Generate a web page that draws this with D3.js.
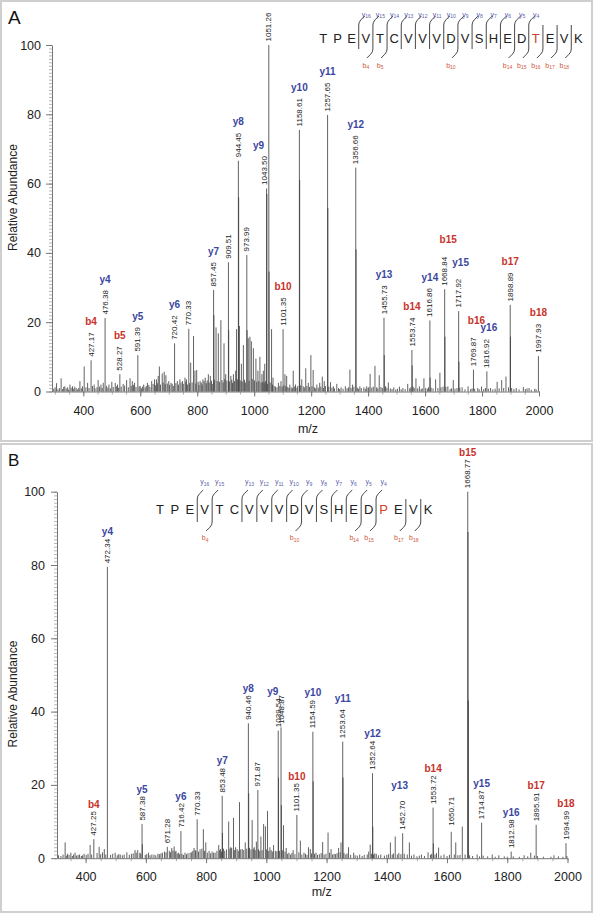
<!DOCTYPE html>
<html><head><meta charset="utf-8">
<script src="https://cdn.jsdelivr.net/npm/d3@7"></script>
<style>
body{margin:0;background:#fff}
svg{display:block}
text{font-family:"Liberation Sans",Arial,Helvetica,sans-serif}
</style>
</head><body>
<svg id="c" width="594" height="914"></svg>
<script>
// ---------------- DATA ----------------
const yTickValues = [0, 20, 40, 60, 80, 100];
const xTickValues = [400, 600, 800, 1000, 1200, 1400, 1600, 1800, 2000];

// Panel A labeled peaks
const labMzA  = [427.17,476.38,528.27,591.39,720.42,770.33,857.45,909.51,944.45,973.99,1043.50,1051.26,1101.35,1158.61,1257.65,1356.66,1455.73,1553.74,1616.86,1668.84,1717.92,1769.87,1816.92,1898.89,1997.93];
const labIntA = [9.0,21.2,5.0,10.5,13.9,18.1,29.3,37.3,66.6,39.4,58.6,100,18.0,75.5,79.8,64.6,21.3,12.0,20.5,29.5,23.2,6.3,5.8,25.0,10.2];
const ionA    = ["b4","y4","b5","y5","y6","","y7","","y8","","y9","","b10","y10","y11","y12","y13","b14","y14","b15","y15","b16","y16","b17","b18"];

// Panel A other visible peaks [m/z, relative abundance]
const minorA = [[306,2.4],[322,3.8],[335,1.5],[345,1.2],[353,2.0],[362,1.5],[375,1.0],[388,3.0],[403,7.2],[415,2.5],[438,2.0],[452,3.3],[462,2.0],[470,2.5],[490,2.0],[500,2.8],[512,2.5],[520,2.0],[540,2.2],[552,3.3],[564,3.8],[572,3.0],[580,2.5],[600,1.5],[612,2.0],[625,2.5],[640,3.0],[650,3.5],[657,3.5],[663,4.5],[667,7.2],[677,5.2],[684,5.7],[690,4.7],[700,3.0],[708,2.5],[730,3.0],[739,3.5],[748,3.0],[757,4.0],[762,3.5],[777,8.3],[787,16],[792,6],[798,6.2],[810,3.0],[820,3.5],[828,4.0],[839,5.0],[846,4.5],[858.45,22],[866,18.5],[874,16.8],[883,20.6],[894,13.9],[900,5],[910.5,17.7],[918,4.5],[927,5],[935,6],[938,18],[945.45,56],[948,18.9],[955,8],[962,13.4],[975,17.7],[979,15.4],[985,15.8],[990,14.5],[997,12.5],[1006,9.5],[1013,6],[1020,10],[1027,5],[1032,6],[1037,8],[1044.5,57],[1052.26,34.6],[1061,18],[1066,4],[1085,2.5],[1094,3],[1108,5],[1114,4.5],[1125,2],[1137,6],[1145,2],[1159.6,61],[1167,3.5],[1181,6.7],[1190,2.5],[1199,10.5],[1207,6.2],[1220,2],[1230,2.5],[1239,4.3],[1246,3],[1258.65,53],[1268,2.7],[1278,1.5],[1290,2.2],[1305,1.2],[1320,1.5],[1336,6.3],[1345,2],[1357.66,41],[1371,1.5],[1385,1.2],[1395,1.5],[1407,5.1],[1424,7.4],[1439,4.7],[1456.7,10.5],[1471,2.6],[1490,1.2],[1510,1.4],[1522,1],[1539,2.2],[1554.7,7.5],[1568,3.8],[1580,1.5],[1596,3.8],[1617.9,4],[1637,3.5],[1652,5.4],[1669.8,15.8],[1680,1.5],[1699,3.3],[1718.9,8.6],[1730,1.2],[1751,1.5],[1785,1],[1798,1.4],[1830,1],[1853,2.8],[1869,3.3],[1884,4.3],[1899.9,15.8],[1920,1],[1945,1.3],[1965,1],[1985,0.8]];

// Panel A baseline noise
const grassA = [[296,0.8],[301,1.2],[311,0.6],[316,1.0],[327,0.7],[331,1.3],[340,0.9],[348,0.5],[357,1.1],[366,0.8],[370,1.4],[380,0.6],[384,1.0],[393,0.9],[397,1.5],[409,1.2],[420,1.0],[432,1.6],[441,0.9],[448,1.2],[457,1.4],[466,1.0],[481,1.6],[486,1.1],[495,0.9],[505,1.3],[516,1.5],[524,1.1],[533,1.4],[545,1.7],[558,1.2],[568,1.6],[576,1.9],[585,1.3],[596,1.5],[604,0.9],[608,1.4],[617,1.2],[621,1.6],[630,1.9],[634,1.3],[645,2.2],[653,1.8],[660,2.4],[671,2.0],[680,2.6],[687,2.1],[695,2.3],[703,1.9],[712,2.2],[716,1.6],[725,2.4],[734,2.0],[743,2.6],[751,2.2],[760,2.8],[766,2.0],[773,2.4],[782,2.6],[795,2.3],[803,2.8],[806,1.9],[814,2.6],[817,2.0],[824,3.0],[832,2.4],[835,3.2],[842,2.6],[850,3.1],[853,2.2],[861,3.4],[870,3.0],[878,2.8],[887,3.3],[891,2.6],[897,3.6],[904,3.1],[913,2.9],[921,3.4],[924,2.5],[931,3.0],[941,3.5],[951,3.2],[958,2.9],[966,3.4],[969,2.6],[982,3.1],[993,3.6],[1001,3.2],[1009,2.8],[1016,3.0],[1024,2.6],[1030,2.8],[1035,2.4],[1040,3.0],[1047,2.2],[1056,2.6],[1064,2.0],[1070,1.6],[1075,1.4],[1080,1.2],[1090,1.6],[1098,1.4],[1104,1.8],[1111,1.5],[1118,1.3],[1122,1.0],[1130,1.2],[1134,0.9],[1141,1.4],[1150,1.1],[1153,1.6],[1162,1.8],[1172,1.5],[1176,1.2],[1185,1.6],[1194,1.3],[1203,1.5],[1212,1.2],[1216,0.9],[1225,1.1],[1234,1.4],[1243,1.0],[1250,1.6],[1262,1.4],[1273,1.1],[1282,0.9],[1296,1.0],[1300,0.7],[1312,0.8],[1326,0.9],[1331,1.2],[1340,1.0],[1350,1.4],[1362,1.1],[1366,0.8],[1376,1.0],[1390,0.8],[1400,1.0],[1403,1.3],[1413,1.1],[1418,1.4],[1430,1.2],[1434,0.9],[1445,1.3],[1450,1.0],[1461,1.5],[1466,1.1],[1478,0.9],[1484,0.7],[1497,0.6],[1503,0.8],[1516,0.6],[1530,0.7],[1546,0.9],[1550,1.2],[1558,1.4],[1562,1.0],[1574,0.9],[1586,0.7],[1590,0.9],[1602,1.0],[1608,0.8],[1612,1.2],[1621,1.1],[1628,0.9],[1645,1.0],[1656,1.2],[1663,1.4],[1673,1.3],[1688,0.7],[1693,0.9],[1705,0.8],[1712,1.0],[1722,1.1],[1740,0.6],[1760,0.7],[1765,0.9],[1774,0.8],[1790,0.6],[1806,0.7],[1812,1.0],[1822,0.8],[1838,0.6],[1846,0.8],[1860,0.9],[1876,1.0],[1893,1.2],[1904,1.0],[1912,0.7],[1930,0.6],[1952,0.7],[1958,0.9],[1973,0.5],[1990,0.6]];

// Panel B labeled peaks
const labMzB  = [427.25,472.34,587.38,671.28,716.42,770.33,853.48,940.46,971.87,1039.54,1048.87,1101.35,1154.59,1253.64,1352.64,1452.70,1553.72,1650.71,1668.77,1714.87,1812.98,1895.91,1994.99];
const labIntB = [5.2,79.5,9.3,3.1,7.4,10.6,17.0,36.8,18.6,34.8,35.7,11.8,34.5,31.8,23.2,6.8,13.8,8.6,100,9.7,1.8,9.1,4.1];
const ionB    = ["b4","y4","y5","","y6","","y7","y8","","y9","","b10","y10","y11","y12","y13","b14","","b15","y15","y16","b17","b18"];

// Panel B other visible peaks
const minorB = [[332,4.3],[340,1.2],[351,1.5],[365,1.5],[380,1.0],[395,1.2],[415,3.6],[445,3.1],[462,2.5],[498,1.5],[515,1.0],[537,1.6],[552,1.2],[564,2.2],[573,2.2],[580,1.5],[588.4,3.8],[609,1.5],[620,1.0],[640,1.2],[655,1.5],[662,1.8],[686,2.8],[694,3.2],[700,2.0],[708,1.5],[730,1.5],[747,1.5],[760,2.8],[766,2.0],[791,7.9],[799,4.3],[810,2.0],[825,1.5],[842,3.6],[848,2.5],[854.5,6.9],[875,10],[882,3],[891,11],[898,3],[911,15.3],[920,2.5],[930,4.3],[941.5,17.7],[953,10.4],[960,3],[967,4.5],[982,5.9],[991,9.3],[997,8.7],[1004,12.9],[1012,3],[1024,3.6],[1030,2],[1040.5,22],[1049.9,14.5],[1057,9],[1066,2.8],[1075,1.5],[1089,2.2],[1113,4.8],[1125,1.5],[1140,3],[1146,2.5],[1155.6,21],[1165,1.5],[1187,4.4],[1205,7],[1215,2.5],[1225,1.2],[1240,2.8],[1248,4.3],[1254.6,22],[1273,3],[1290,1.5],[1310,1],[1340,1.8],[1345,3.7],[1353.6,8.6],[1365,1.2],[1380,1],[1412,4.3],[1428,5.9],[1475,4.3],[1490,1],[1515,1],[1537,1.6],[1554.7,4],[1572,2.9],[1590,1],[1614,7.2],[1629,4.3],[1669.8,89],[1670.8,43],[1700,1],[1750,1],[1772,0.8],[1856,0.8],[1878,1.5],[1955,0.8]];

// Panel B baseline noise
const grassB = [[310,0.8],[318,0.6],[325,1.0],[336,0.7],[345,0.9],[356,0.6],[360,1.0],[370,0.7],[375,0.9],[386,0.6],[390,0.8],[402,0.9],[408,1.2],[420,1.0],[438,1.4],[450,1.1],[456,1.6],[467,1.0],[483,0.9],[490,1.2],[505,0.8],[510,1.1],[522,0.8],[528,1.0],[545,0.9],[558,1.3],[568,1.5],[583,1.2],[598,0.9],[603,1.1],[614,0.8],[627,1.0],[633,0.8],[645,1.1],[650,1.3],[667,1.6],[678,2.0],[682,1.6],[690,2.1],[697,1.8],[704,1.3],[712,1.1],[720,1.2],[725,0.9],[735,1.1],[740,1.4],[752,1.6],[756,2.0],[764,2.2],[775,1.8],[780,2.4],[786,2.6],[795,2.0],[804,1.5],[815,1.3],[820,1.8],[830,1.5],[836,2.0],[845,2.2],[851,1.8],[858,2.6],[862,2.0],[868,2.4],[879,2.6],[885,2.8],[894,2.2],[903,2.5],[907,2.0],[915,2.4],[925,2.2],[935,2.6],[944,2.8],[949,2.4],[957,2.6],[963,2.2],[974,2.4],[978,2.0],[986,2.2],[1001,2.4],[1008,2.0],[1016,2.2],[1020,1.8],[1035,1.9],[1044,2.0],[1053,2.2],[1062,1.8],[1070,1.2],[1080,1.0],[1085,1.4],[1095,1.1],[1108,1.6],[1118,1.0],[1130,1.2],[1135,0.9],[1150,1.3],[1160,1.2],[1170,0.9],[1176,1.1],[1182,1.4],[1192,1.0],[1198,1.2],[1210,1.5],[1220,1.0],[1230,1.1],[1235,1.4],[1245,1.6],[1258,1.4],[1264,1.0],[1268,1.3],[1280,0.9],[1295,0.8],[1302,0.7],[1318,0.6],[1325,0.9],[1335,1.0],[1349,1.2],[1356,1.0],[1360,1.3],[1372,0.8],[1392,0.7],[1400,0.9],[1406,1.1],[1418,1.0],[1422,1.3],[1435,1.0],[1440,1.4],[1447,1.1],[1458,1.2],[1468,1.0],[1482,0.7],[1500,0.5],[1508,0.7],[1525,0.6],[1545,0.9],[1549,1.2],[1560,1.0],[1565,1.4],[1580,0.7],[1600,0.6],[1608,0.9],[1624,1.0],[1636,0.8],[1643,0.9],[1660,1.0],[1675,0.8],[1685,0.6],[1708,0.5],[1720,0.7],[1735,0.5],[1760,0.4],[1790,0.5],[1800,0.4],[1820,0.5],[1840,0.4],[1868,0.5],[1890,0.7],[1900,0.6],[1920,0.4],[1945,0.4],[1970,0.5],[1985,0.4],[1998,0.6]];

// Peptide sequences and fragment ions
const seqA = "TPEVTCVVVDVSHEDTEVK".split("");
const seqB = "TPEVTCVVVDVSHEDPEVK".split("");
const modIndexA = 15, modIndexB = 15;
const yIonsA = [16,15,14,13,12,11,10,9,8,7,6,5,4];
const bIonsA = [4,5,10,14,15,16,17,18];
const yIonsB = [16,15,13,12,11,10,9,8,7,6,5,4];
const bIonsB = [4,10,14,15,17,18];

// ---------------- LAYOUT ----------------
const COL_Y = "#3b46a0", COL_B = "#c8322a", COL_PEAK = "#3a3a3a";
const svg = d3.select("#c");

const panelA = {
  box:[1,1,591,440], domain:[290,2000], xr:[52,539], yr:[391.5,45],
  letter:"A", letterPos:[8,24], letterSize:19,
  yTitle:[17,197.5], xTitle:[308,432.5], xPad:10, yPad:5, ionGap:7.5,
  labMz:labMzA, labInt:labIntA, ion:ionA, minor:minorA, grass:grassA,
  numShift:{"1043.50":[-2,0]}, ionShift:{y9:[-6,0], b15:[3.5,-6], y15:[2,-5], b16:[3,-6], y16:[2,0]},
  seq:{letters:seqA, mod:modIndexA, y:yIonsA, b:bIonsA, x0:323.3, dx:14.17, base:43, top:22, bot:52, yLab:16.5, bLab:67.5}
};
const panelB = {
  box:[1,444,591,468], domain:[305,2000], xr:[57,567.5], yr:[858.2,491.7],
  letter:"B", letterPos:[8,465.5], letterSize:17,
  yTitle:[17,694], xTitle:[321.7,895.5], xPad:8.5, yPad:6, ionGap:3.5,
  labMz:labMzB, labInt:labIntB, ion:ionB, minor:minorB, grass:grassB,
  numShift:{"1650.71":[-10.5,2.6]}, ionShift:{y9:[-5.5,0], y13:[-3,-8], y11:[0,-4]},
  seq:{letters:seqB, mod:modIndexB, y:yIonsB, b:bIonsB, x0:160, dx:14.9, base:514, top:496, bot:525, yLab:484, bLab:540}
};

function drawPanel(P){
  const g = svg.append("g");
  g.append("rect").attr("x",P.box[0]).attr("y",P.box[1]).attr("width",P.box[2]).attr("height",P.box[3])
    .attr("fill","none").attr("stroke","#cfcfcf").attr("stroke-width",2);

  const x = d3.scaleLinear().domain(P.domain).range(P.xr);
  const y = d3.scaleLinear().domain([0,100]).range(P.yr);

  // minor y ticks
  g.append("g").attr("transform",`translate(${P.xr[0]},0)`)
    .call(d3.axisLeft(y).tickValues(d3.range(0,101,1)).tickSize(3).tickSizeOuter(0).tickFormat(""))
    .call(a=>a.selectAll("line").attr("stroke","#888").attr("stroke-width",0.6))
    .call(a=>a.select(".domain").attr("stroke","#777"));
  // major y ticks
  g.append("g").attr("transform",`translate(${P.xr[0]},0)`)
    .call(d3.axisLeft(y).tickValues(yTickValues).tickSize(6).tickSizeOuter(0).tickPadding(P.yPad).tickFormat(d3.format("d")))
    .call(a=>a.select(".domain").remove())
    .call(a=>a.selectAll("line").attr("stroke","#777"))
    .call(a=>a.selectAll("text").attr("font-size",12.5).attr("fill","#222").attr("font-family","Liberation Sans, Arial, sans-serif"));

  // minor x ticks
  const minorTicks = d3.range(Math.ceil(P.domain[0]/50)*50, 2001, 50);
  g.append("g").attr("transform",`translate(0,${P.yr[0]})`)
    .call(d3.axisBottom(x).tickValues(minorTicks).tickSize(3).tickSizeOuter(0).tickFormat(""))
    .call(a=>a.selectAll("line").attr("stroke","#888").attr("stroke-width",0.7))
    .call(a=>a.select(".domain").attr("stroke","#777"));
  g.append("g").attr("transform",`translate(0,${P.yr[0]})`)
    .call(d3.axisBottom(x).tickValues(xTickValues).tickSize(5).tickSizeOuter(0).tickPadding(P.xPad).tickFormat(d3.format("d")))
    .call(a=>a.select(".domain").remove())
    .call(a=>a.selectAll("line").attr("stroke","#777"))
    .call(a=>a.selectAll("text").attr("font-size",12.5).attr("fill","#222").attr("font-family","Liberation Sans, Arial, sans-serif"));

  // titles
  g.append("text").attr("x",P.letterPos[0]).attr("y",P.letterPos[1]).attr("font-size",P.letterSize).attr("fill","#111").text(P.letter);
  g.append("text").attr("transform",`translate(${P.yTitle[0]},${P.yTitle[1]}) rotate(-90)`).attr("text-anchor","middle")
    .attr("font-size",12).attr("fill","#222").text("Relative Abundance");
  g.append("text").attr("x",P.xTitle[0]).attr("y",P.xTitle[1]).attr("text-anchor","middle").attr("font-size",12.5).attr("fill","#222").text("m/z");

  // peaks
  const peakG = g.append("g").attr("stroke",COL_PEAK).attr("stroke-width",0.8);
  const allPeaks = P.grass.concat(P.minor, P.labMz.map((m,i)=>[m,P.labInt[i]]));
  peakG.selectAll("line").data(allPeaks).join("line")
    .attr("x1",d=>x(d[0])).attr("x2",d=>x(d[0])).attr("y1",y(0)).attr("y2",d=>y(d[1]));

  // labels
  const labG = g.append("g");
  P.labMz.forEach((m,i)=>{
    const txt = m.toFixed(2);
    const sh = P.numShift[txt] || [0,0];
    const px = x(m) + sh[0], top = y(P.labInt[i]) + sh[1];
    const t = labG.append("text").attr("transform",`translate(${px+2.6},${top-3.5}) rotate(-90)`)
      .attr("font-size",8).attr("fill","#222").text(txt);
    const len = t.node().getComputedTextLength();
    const ion = P.ion[i];
    if(ion){
      const is = P.ionShift[ion] || [0,0];
      labG.append("text").attr("x",px+is[0]).attr("y",top-3.5-len-P.ionGap+is[1])
        .attr("text-anchor","middle").attr("font-size",10).attr("font-weight","bold")
        .attr("fill",ion[0]==="y"?COL_Y:COL_B).text(ion);
    }
  });

  // sequence diagram
  const S = P.seq;
  const sg = g.append("g");
  S.letters.forEach((c,i)=>{
    sg.append("text").attr("x",S.x0+i*S.dx).attr("y",S.base).attr("text-anchor","middle")
      .attr("font-size",13).attr("fill",i===S.mod?"#d0402a":"#222").text(c);
  });
  const n = S.letters.length;
  const ySet = new Set(S.y.map(k=>n-k)), bSet = new Set(S.b);
  const cuts = Array.from(new Set([...ySet,...bSet])).sort((a,b)=>a-b);
  cuts.forEach(p=>{
    const sx = S.x0+(p-0.5)*S.dx;
    const hasY = ySet.has(p), hasB = bSet.has(p);
    let d = "";
    if(hasY){ d += `M${sx+6},${S.top-6} L${sx+2.2},${S.top-2.2} Q${sx},${S.top} ${sx},${S.top+3} `; }
    else { d += `M${sx},${S.top+3} `; }
    if(hasB){ d += `L${sx},${S.bot-3} Q${sx},${S.bot} ${sx-2.2},${S.bot+2.2} L${sx-6},${S.bot+6}`; }
    else { d += `L${sx},${S.bot-3}`; }
    sg.append("path").attr("d",d).attr("fill","none").attr("stroke","#333").attr("stroke-width",0.9);
    if(hasY){
      const t = sg.append("text").attr("x",sx+7.5).attr("y",S.yLab).attr("text-anchor","middle").attr("font-size",7).attr("fill","#5860aa");
      t.append("tspan").text("y");
      t.append("tspan").attr("font-size",5).attr("dy",1.5).text(n-p);
    }
    if(hasB){
      const t = sg.append("text").attr("x",sx-7).attr("y",S.bLab).attr("text-anchor","middle").attr("font-size",7).attr("fill","#d0583a");
      t.append("tspan").text("b");
      t.append("tspan").attr("font-size",5).attr("dy",1.5).text(p);
    }
  });
}

drawPanel(panelA);
drawPanel(panelB);
</script>
</body></html>
